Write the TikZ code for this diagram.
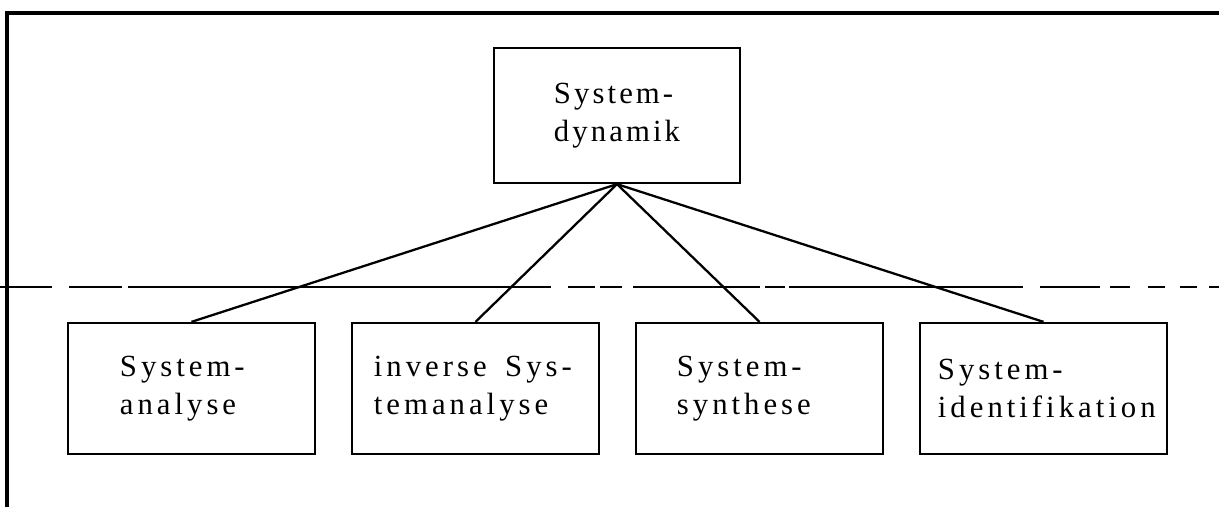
\documentclass[tikz,border=0pt]{standalone}
\usepackage{fontspec}
\setmainfont{Liberation Serif}[LetterSpace=13]
\newfontfamily\topfont{Liberation Serif}[LetterSpace=10]
\usetikzlibrary{positioning}

\tikzset{
    frameline/.style={line width=2pt},
    sysbox/.style={draw, line width=1.3pt, minimum width=4.95cm, minimum height=2.62cm,
        inner sep=0pt},
    boxtext/.style={align=left, inner sep=0pt, font=\fontsize{17.5}{21.6}\selectfont},
    branch/.style={line width=1.3pt},
    levelline/.style={line width=0.6pt}
}

\begin{document}
\begin{tikzpicture}
\def\xMax{24.38}
\def\yMin{-10.14}
\def\yLevel{-5.74}
\def\yRow{-7.77}
\def\xFirst{3.83}
\def\xStep{5.68}

\useasboundingbox (0,0) rectangle (\xMax,\yMin);

% open frame, top and left side only
\draw [frameline] (0.14,\yMin) -- (0.14,-0.26) -- (\xMax,-0.26);

% separating level, broken dashes (in px along the line)
\foreach \a/\b in {0/52, 69/122, 128/551, 568/595, 600/622, 633/760, 765/785,
                   789/1023, 1040/1100, 1110/1130, 1148/1165, 1180/1197, 1209/1219} {
    \draw [levelline] (\a*0.02,\yLevel) -- (\b*0.02,\yLevel);
}

\node [sysbox, minimum width=4.92cm, minimum height=2.7cm] (dyn) at (12.34,-2.31) {};
\node [boxtext, font=\fontsize{17.5}{21.6}\topfont] (dyntxt) at (dyn) {System-\\dynamik};

\foreach \i/\name/\pad/\txt in {0/ana/1.06/{System-\\analyse},
                                1/inv/0.46/{inverse\hspace{0.6em}Sys-\\temanalyse},
                                2/syn/0.84/{System-\\synthese},
                                3/ide/0.38/{System-\\identifikation}} {
    \node [sysbox] (\name) at (\xFirst+\i*\xStep,\yRow) {};
    \node [boxtext, right=\pad cm of \name.west] (\name txt) {\txt};
    \draw [branch] (dyn.south) -- (\name.north);
}

\end{tikzpicture}
\end{document}
